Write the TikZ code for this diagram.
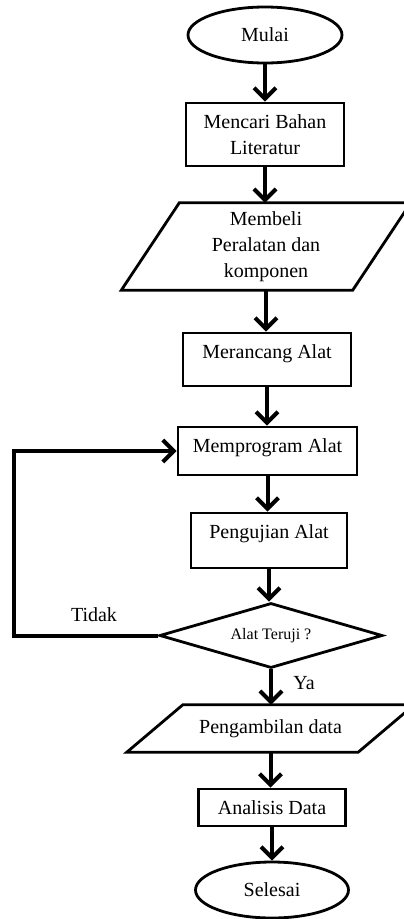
\documentclass[tikz,border=0pt]{standalone}
\usepackage{fontspec}
\setmainfont{Liberation Serif}
\usetikzlibrary{shapes.geometric,arrows.meta,calc}
\begin{document}
\begin{tikzpicture}[x=1pt,y=-1pt,
  every node/.style={font=\fontsize{20}{26}\selectfont, inner sep=0pt, align=center},
  boxline/.style={draw, line width=2.8pt},
  term/.style={boxline, ellipse},
  proc/.style={boxline, rectangle},
  arr/.style={line width=4pt, -{Straight Barb[length=11pt,width=22pt]}}]
\useasboundingbox (0,0) rectangle (404,919);
\clip (0,0) rectangle (404,919);

\node[term, minimum width=154pt, minimum height=56pt] (start) at (265,35) {Mulai};
\node[proc, minimum width=158pt, minimum height=63pt] (s1) at (265,134.5) {Mencari Bahan\\Literatur};
\node[minimum width=231pt, minimum height=87pt] (p1) at (266,246.5) {Membeli\\Peralatan dan\\komponen};
\draw[boxline] ($(p1.north west)+(29,0)$) -- ($(p1.north east)+(29,0)$) -- ($(p1.south east)+(-29,0)$) -- ($(p1.south west)+(-29,0)$) -- cycle;
\node[proc, minimum width=168pt, minimum height=53pt, text height=14pt, text depth=17pt] (s2) at (267,359.5) {Merancang Alat};
\node[proc, minimum width=179pt, minimum height=48pt, text height=14pt, text depth=11pt] (s3) at (267.5,451) {Memprogram Alat};
\node[proc, minimum width=156pt, minimum height=55pt, text height=14pt, text depth=19pt] (s4) at (269,540.5) {Pengujian Alat};
\node[boxline, diamond, aspect=3.4, minimum width=223pt, minimum height=65pt, font=\fontsize{16}{20}\selectfont] (d) at (271,635.5) {Alat Teruji ?};
\node[minimum width=231pt, minimum height=47pt] (p2) at (270.5,728.5) {Pengambilan data};
\draw[boxline] ($(p2.north west)+(28,0)$) -- ($(p2.north east)+(28,0)$) -- ($(p2.south east)+(-28,0)$) -- ($(p2.south west)+(-28,0)$) -- cycle;
\node[proc, minimum width=147pt, minimum height=37pt] (s5) at (272,807.5) {Analisis Data};
\node[term, minimum width=153pt, minimum height=56pt] (end) at (272,890) {Selesai};

\node (tidak) at (94,615) {Tidak};
\node (ya) at (304,683) {Ya};

\draw[arr] (start.south) -- (start.south |- s1.north);
\draw[arr] (s1.south) -- (s1.south |- p1.north);
\draw[arr] (p1.south) -- (p1.south |- s2.north);
\draw[arr] (s2.south) -- (s2.south |- s3.north);
\draw[arr] (s3.south) -- (s3.south |- s4.north);
\draw[arr] (s4.south) -- (s4.south |- d.north);
\draw[arr] (d.south) -- (d.south |- p2.north);
\draw[arr] (p2.south) -- (p2.south |- s5.north);
\draw[arr] (s5.south) -- (s5.south |- end.north);
\coordinate (lc) at (14,0);
\draw[arr] (d.west) -- (d.west -| lc) |- (s3.west);
\end{tikzpicture}
\end{document}
